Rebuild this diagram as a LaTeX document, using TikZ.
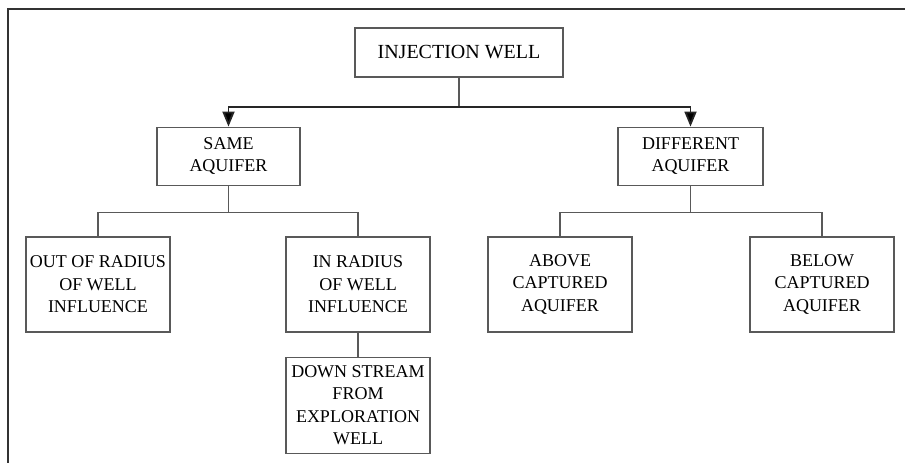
\documentclass[tikz,border=0pt]{standalone}
\usepackage{fontspec}
\setmainfont{Liberation Serif}
\usepackage{tikz}
\usetikzlibrary{positioning}
\usetikzlibrary{arrows.meta}

\tikzset{
	box/.style={draw=black!65, line width=1.2pt, align=center, inner sep=2pt,
		minimum width=144pt, minimum height=95pt,
		font=\fontsize{18pt}{22.5pt}\selectfont},
	link/.style={draw=black!65, line width=1.2pt},
	fork/.style={draw=black!85, line width=1.8pt, -{Triangle[width=12pt,length=15pt,fill=black]}}
}

\begin{document}
\begin{tikzpicture}
		\useasboundingbox (0pt,0pt) rectangle (905pt,-463pt);
		% frame
		\draw[black!80, line width=2pt] (905pt,-9pt) -- (8pt,-9pt) -- (8pt,-463pt);
		\node[box, minimum width=208pt, minimum height=49pt, font=\fontsize{20pt}{24pt}\selectfont] (inj) at (459pt,-52.5pt) {INJECTION WELL};
		\node[box, minimum width=143pt, minimum height=58pt] [below= 49pt of inj, xshift=-230.5pt] (same) {SAME\\AQUIFER};
		\node[box, minimum width=145pt, minimum height=58pt] [below= 49pt of inj, xshift=231.5pt] (diff) {DIFFERENT\\AQUIFER};
		\node[box] [below= 50.5pt of same, xshift=-130.5pt] (outrad) {OUT OF RADIUS\\OF WELL\\INFLUENCE};
		\node[box] [below= 50.5pt of same, xshift=129.5pt] (inrad) {IN RADIUS\\OF WELL\\INFLUENCE};
		\node[box, minimum height=96pt] [below= 24pt of inrad] (down) {DOWN STREAM\\FROM\\EXPLORATION\\WELL};
		\node[box] [below= 50.5pt of diff, xshift=-130.5pt] (above) {ABOVE\\CAPTURED\\AQUIFER};
		\node[box] [below= 50.5pt of diff, xshift=131.5pt] (below) {BELOW\\CAPTURED\\AQUIFER};
		\path[link] (inj.south) -- ++(0,-29pt) coordinate (split);
		\path[fork] (split) -| (same.north);
		\path[fork] (split) -| (diff.north);
		\path[link] (same.south) -- ++(0,-26.5pt) -| (outrad.north);
		\path[link] (same.south) -- ++(0,-26.5pt) -| (inrad.north);
		\path[link] (inrad) -- (down);
		\path[link] (diff.south) -- ++(0,-26.5pt) -| (above.north);
		\path[link] (diff.south) -- ++(0,-26.5pt) -| (below.north);
	\end{tikzpicture}
\end{document}
